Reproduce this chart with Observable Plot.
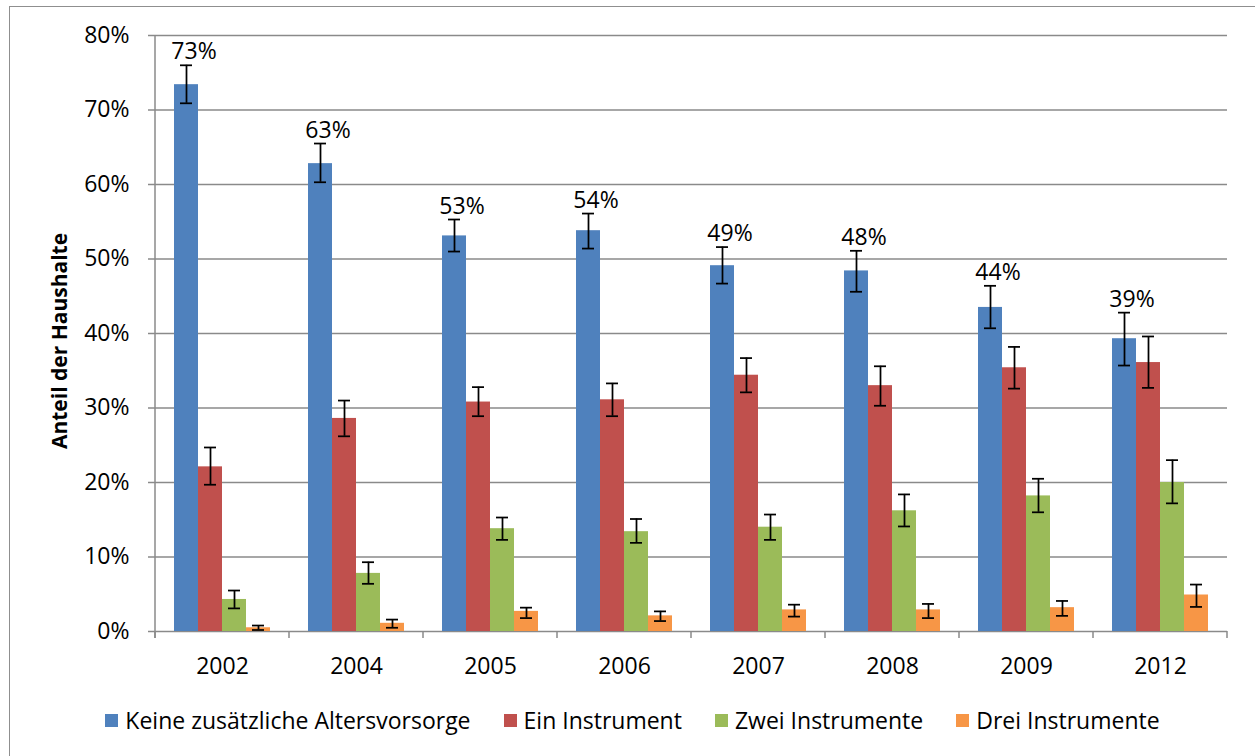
<!DOCTYPE html>
<html><head><meta charset="utf-8">
<script src="https://cdn.jsdelivr.net/npm/d3@7"></script>
<script src="https://cdn.jsdelivr.net/npm/@observablehq/plot@0.6"></script>
<style>
html,body{margin:0;padding:0;background:#fff;width:1255px;height:756px;overflow:hidden;}
#frame{position:absolute;left:9px;top:6px;width:1300px;height:800px;border:1.5px solid #8f8f8f;box-sizing:border-box;}
#wrap{position:absolute;left:0;top:0;width:1255px;}
#ytitle{position:absolute;left:59px;top:341px;transform:translate(-50%,-50%) rotate(-90deg);white-space:nowrap;font-family:'Open Sans',sans-serif;font-weight:bold;font-size:21px;color:#000;}
.lg-swatches-wrap{display:flex;justify-content:center;align-items:center;height:50px;margin:0;padding-left:10px;font-family:'Open Sans',sans-serif;font-size:23px;color:#000;}
.lg-swatch{margin-right:33px;}
.lg-swatch:last-child{margin-right:0;}
.lg-swatch > svg{margin-right:7px;}
</style></head><body>
<div id="frame"></div>
<div id="wrap"></div>
<div id="ytitle"></div>
<script>
const years = ["2002","2004","2005","2006","2007","2008","2009","2012"];
const series = ["Keine zusätzliche Altersvorsorge","Ein Instrument","Zwei Instrumente","Drei Instrumente"];
const colors = ["#4F81BD","#C0504D","#9BBB59","#F79646"];
const yTicks = [0,0.1,0.2,0.3,0.4,0.5,0.6,0.7,0.8];
const labels = ["73%","63%","53%","54%","49%","48%","44%","39%"];
const yTitle = "Anteil der Haushalte";

// values in percent
const keine   = [73.4, 62.8, 53.1, 53.8, 49.1, 48.4, 43.5, 39.3];
const keineLo = [70.9, 60.3, 51.0, 51.4, 46.7, 45.6, 40.7, 35.7];
const keineHi = [76.0, 65.5, 55.3, 56.1, 51.6, 51.1, 46.4, 42.8];
const ein     = [22.1, 28.6, 30.8, 31.1, 34.4, 33.0, 35.4, 36.1];
const einLo   = [19.7, 26.2, 28.9, 28.9, 32.1, 30.3, 32.6, 32.7];
const einHi   = [24.7, 31.0, 32.8, 33.3, 36.7, 35.6, 38.2, 39.6];
const zwei    = [4.3, 7.8, 13.8, 13.4, 14.0, 16.2, 18.2, 20.0];
const zweiLo  = [3.1, 6.4, 12.3, 11.9, 12.3, 14.1, 16.0, 17.2];
const zweiHi  = [5.5, 9.3, 15.3, 15.1, 15.7, 18.4, 20.5, 23.0];
const drei    = [0.5, 1.1, 2.7, 2.1, 2.9, 2.9, 3.2, 4.9];
const dreiLo  = [0.2, 0.5, 1.8, 1.4, 2.0, 1.8, 2.1, 3.3];
const dreiHi  = [0.8, 1.6, 3.2, 2.7, 3.6, 3.7, 4.1, 6.3];

const seriesData = [[keine,keineLo,keineHi],[ein,einLo,einHi],[zwei,zweiLo,zweiHi],[drei,dreiLo,dreiHi]];
const rows = [];
years.forEach((year, i) => {
  series.forEach((s, j) => {
    const [v, lo, hi] = seriesData[j];
    rows.push({year, series: s, value: v[i] / 100, lo: lo[i] / 100, hi: hi[i] / 100});
  });
});
const labelRows = years.map((year, i) => ({year, series: series[0], hi: keineHi[i] / 100, label: labels[i]}));

const gridColor = "#8a8a8a";
const chart = Plot.plot({
  width: 1255, height: 695,
  marginTop: 35, marginBottom: 64, marginLeft: 154, marginRight: 27,
  style: {fontFamily: "'Open Sans', sans-serif", fontSize: "23px", color: "#000", background: "transparent", overflow: "visible"},
  fx: {domain: years, padding: 0, label: null, axis: null},
  x: {domain: series, paddingInner: 0, paddingOuter: 0.74, axis: null},
  y: {domain: [0, 0.8], axis: null},
  color: {domain: series, range: colors},
  marks: [
    Plot.gridY(yTicks, {stroke: gridColor, strokeOpacity: 1, strokeWidth: 1.5}),
    Plot.axisY(yTicks, {tickFormat: d3.format(".0%"), tickSize: 7, tickPadding: 19, stroke: gridColor, strokeWidth: 1.5, fill: "#000", fontSize: 23, label: null}),
    Plot.axisFx({anchor: "bottom", tickSize: 0, tickPadding: 26, label: null, fontSize: 23, fill: "#000"}),
    Plot.barY(rows, {fx: "year", x: "series", y: "value", fill: "series"}),
    Plot.ruleX(rows, {fx: "year", x: "series", y1: "lo", y2: "hi", stroke: "#000", strokeWidth: 1.75}),
    Plot.tickY(rows, {fx: "year", x: "series", y: "lo", insetLeft: 6, insetRight: 6, stroke: "#000", strokeWidth: 1.75}),
    Plot.tickY(rows, {fx: "year", x: "series", y: "hi", insetLeft: 6, insetRight: 6, stroke: "#000", strokeWidth: 1.75}),
    Plot.text(labelRows, {fx: "year", x: "series", y: "hi", text: "label", dy: -6, dx: 7.5, lineAnchor: "bottom", fontSize: 23, fill: "#000"})
  ]
});

// axis line and category boundary ticks, placed with the plot's own scales
const fxS = chart.scale("fx"), yS = chart.scale("y");
const y0 = yS.apply(0), yTop = yS.apply(0.8);
const bounds = years.map(d => fxS.apply(d)).concat([fxS.apply(years[years.length - 1]) + fxS.bandwidth]);
const g = d3.select(chart).append("g").attr("stroke", gridColor).attr("stroke-width", 1.5);
g.append("line").attr("x1", bounds[0]).attr("x2", bounds[0]).attr("y1", yTop).attr("y2", y0 + 7);
bounds.forEach(b => g.append("line").attr("x1", b).attr("x2", b).attr("y1", y0).attr("y2", y0 + 7));

const legend = Plot.legend({color: {type: "ordinal", domain: series, range: colors}, swatchSize: 13, className: "lg"});
const wrap = document.getElementById("wrap");
wrap.appendChild(chart);
wrap.appendChild(legend);
document.getElementById("ytitle").textContent = yTitle;
</script>
</body></html>
